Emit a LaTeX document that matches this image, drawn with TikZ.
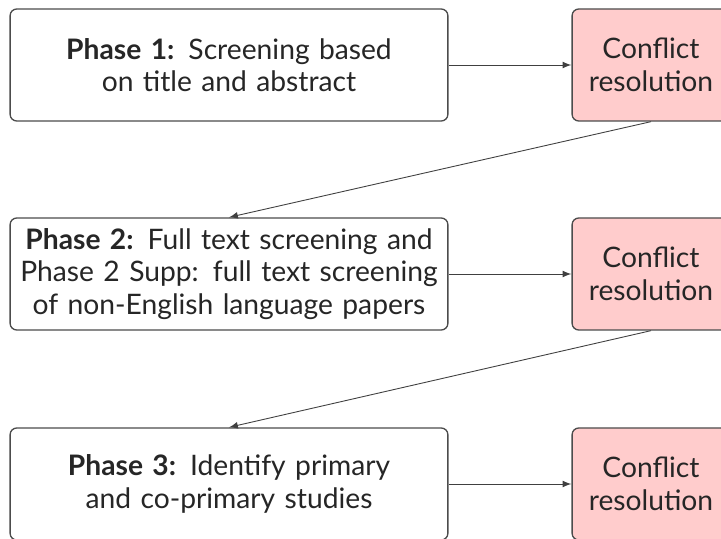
\documentclass[tikz,border=0pt]{standalone}
\usepackage{fontspec}
\setmainfont{Lato}
\usetikzlibrary{arrows,positioning}

\begin{document}
\begin{tikzpicture}[x=0.45pt,y=-0.45pt,
		phase/.style={draw=black!70, semithick, rounded corners=3pt, fill=white, text=black!85,
			text width=194pt, align=center, minimum width=197pt, minimum height=50.4pt,
			font=\fontsize{12.7}{14.6}\selectfont, inner sep=0pt},
		conflict/.style={draw=black!70, semithick, rounded corners=3pt, fill=red!20, text=black!85,
			align=center, minimum width=71pt, minimum height=50.4pt,
			font=\fontsize{12.7}{14.6}\selectfont, inner sep=0pt},
		flow/.style={->, >=latex, black!75}]
		\useasboundingbox (0,0) rectangle (721,539);

		% Phase boxes (left column)
		\node[phase] (phase1) at (229,65) {\textbf{Phase 1:} Screening based\\on title and abstract};
		\node[phase] (phase2) at (229,274) {\textbf{Phase 2:} Full text screening and\\Phase 2 Supp: full text screening\\of non-English language papers};
		\node[phase] (phase3) at (229,484) {\textbf{Phase 3:} Identify primary\\and co-primary studies};

		% Conflict resolution (right column)
		\node[conflict] (conflict1) at (651,65) {Conflict\\resolution};
		\node[conflict] (conflict2) at (651,274) {Conflict\\resolution};
		\node[conflict] (conflict3) at (651,484) {Conflict\\resolution};

		% Arrows
		\draw[flow] (phase1) -- (conflict1);
		\draw[flow] (phase2) -- (conflict2);
		\draw[flow] (phase3) -- (conflict3);
		\draw[flow] (conflict1.south) -- (phase2.north);
		\draw[flow] (conflict2.south) -- (phase3.north);
	\end{tikzpicture}
\end{document}
